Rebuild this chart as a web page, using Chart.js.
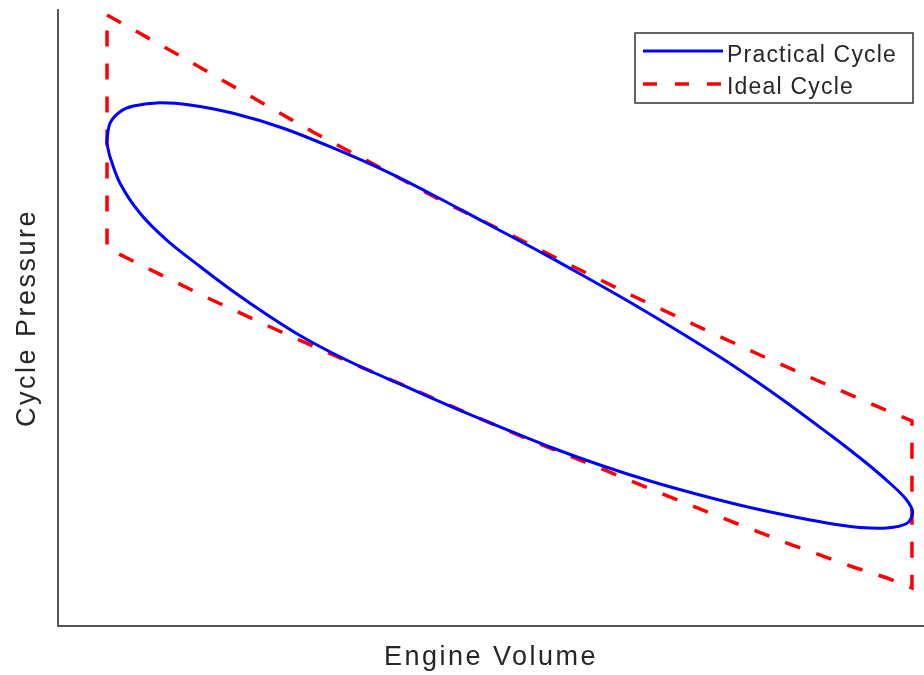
<!DOCTYPE html>
<html>
<head>
<meta charset="utf-8">
<script src="https://cdn.jsdelivr.net/npm/chart.js@4.4.1/dist/chart.umd.min.js"></script>
<style>
html,body{margin:0;padding:0;background:#fff;}
#wrap{width:924px;height:675px;position:relative;}
</style>
</head>
<body>
<div id="wrap"><canvas id="c" width="924" height="675"></canvas></div>
<script>
// Normalized axis units (0..100)
const xTitle = "Engine Volume";
const yTitle = "Cycle Pressure";
const seriesNames = ["Practical Cycle", "Ideal Cycle"];

// Practical cycle (closed loop): upper arc left->right, then lower arc right->left
const practicalV = [5.62, 6.00, 7.16, 8.70, 11.78, 15.24, 20.24, 26.02, 31.76, 37.53, 43.30, 49.08, 54.85, 60.62, 66.40, 72.17, 77.94, 83.72, 89.49, 91.45, 94.11, 96.42, 97.81, 98.50, 98.67,
                    98.00, 95.69, 92.61, 89.49, 85.68, 79.91, 74.13, 68.36, 62.59, 56.81, 51.04, 45.27, 39.49, 35.65, 31.79, 27.94, 24.10, 20.24, 16.40, 12.55, 9.47, 7.16, 6.00, 5.62];
const practicalP = [78.62, 81.61, 83.49, 84.42, 84.95, 84.58, 83.23, 80.80, 77.60, 74.03, 69.97, 65.67, 61.36, 56.90, 52.27, 47.40, 42.29, 36.69, 30.68, 28.57, 25.57, 22.73, 20.78, 19.32, 18.18,
                    16.64, 15.91, 15.99, 16.56, 17.53, 19.24, 21.27, 23.54, 26.14, 29.06, 32.31, 35.71, 39.29, 41.64, 44.24, 47.16, 50.57, 54.30, 58.36, 62.66, 67.00, 71.87, 76.19, 78.62];

// Ideal cycle (closed outline)
const idealV = [5.66, 13.51, 21.36, 29.45, 36.84, 44.11, 51.39, 58.89, 66.40, 73.79, 81.06, 88.34, 95.84, 98.61,
                98.61, 95.73, 91.80, 84.18, 76.44, 69.28, 62.01, 54.50, 47.23, 39.84, 32.56, 25.29, 17.55, 10.28, 5.66, 5.66];
const idealP = [99.19, 93.02, 86.69, 80.19, 74.68, 69.16, 64.12, 58.77, 53.57, 48.70, 43.99, 39.45, 34.90, 33.28,
                6.17, 7.79, 9.58, 13.47, 17.69, 21.75, 25.97, 30.19, 34.58, 39.12, 43.51, 48.05, 53.08, 58.12, 61.36, 99.19];

const toPts = (xs, ys) => xs.map((x, i) => ({x: x, y: ys[i]}));
const FONT = '"Liberation Sans", Arial, sans-serif';

const spacingPlugin = {
  id: 'spacing',
  beforeDraw(chart) { chart.ctx.letterSpacing = '2.5px'; }
};

const legendPlugin = {
  id: 'boxLegend',
  afterDraw(chart) {
    const ctx = chart.ctx;
    const x0 = 635, y0 = 33, w = 278, h = 70;
    ctx.save();
    ctx.fillStyle = '#fff';
    ctx.fillRect(x0, y0, w, h);
    ctx.strokeStyle = '#333';
    ctx.lineWidth = 1.5;
    ctx.strokeRect(x0, y0, w, h);
    const lines = [51, 84];
    const bases = [61.5, 94];
    chart.data.datasets.forEach((ds, i) => {
      ctx.beginPath();
      ctx.strokeStyle = ds.borderColor;
      ctx.lineWidth = ds.borderWidth;
      ctx.setLineDash(i === 1 ? [14, 18] : []);
      ctx.moveTo(643, lines[i]);
      ctx.lineTo(723, lines[i]);
      ctx.stroke();
      ctx.setLineDash([]);
      ctx.fillStyle = '#262626';
      ctx.letterSpacing = '1.2px';
      ctx.font = '23px ' + FONT;
      ctx.textBaseline = 'alphabetic';
      ctx.textAlign = 'left';
      ctx.fillText(ds.label, 727, bases[i]);
    });
    ctx.restore();
  }
};

new Chart(document.getElementById('c'), {
  type: 'scatter',
  data: {
    datasets: [
      {
        label: seriesNames[0],
        data: toPts(practicalV, practicalP),
        showLine: true,
        borderColor: '#0000ff',
        borderWidth: 3,
        pointRadius: 0,
        tension: 0.3,
        fill: false
      },
      {
        label: seriesNames[1],
        data: toPts(idealV, idealP),
        showLine: true,
        borderColor: '#ff0000',
        borderWidth: 3.5,
        borderDash: [16, 17],
        pointRadius: 0,
        tension: 0,
        fill: false
      }
    ]
  },
  options: {
    responsive: false,
    animation: false,
    devicePixelRatio: 1,
    layout: {padding: {top: 10, right: 0, left: 0, bottom: 0}},
    plugins: {legend: {display: false}, tooltip: {enabled: false}},
    scales: {
      x: {
        type: 'linear', min: 0, max: 100,
        grid: {display: false},
        border: {display: true, color: '#555', width: 2},
        ticks: {display: false},
        title: {display: true, text: xTitle, color: '#262626',
                font: {family: FONT, size: 27},
                padding: {top: 0, bottom: 1}},
        afterFit: (s) => { s.height = 49; }
      },
      y: {
        type: 'linear', min: 0, max: 100,
        grid: {display: false},
        border: {display: true, color: '#555', width: 2},
        ticks: {display: false},
        title: {display: true, text: yTitle, color: '#262626',
                font: {family: FONT, size: 27},
                padding: {top: 11, bottom: 0}},
        afterFit: (s) => { s.width = 58; }
      }
    }
  },
  plugins: [spacingPlugin, legendPlugin]
});
</script>
</body>
</html>
